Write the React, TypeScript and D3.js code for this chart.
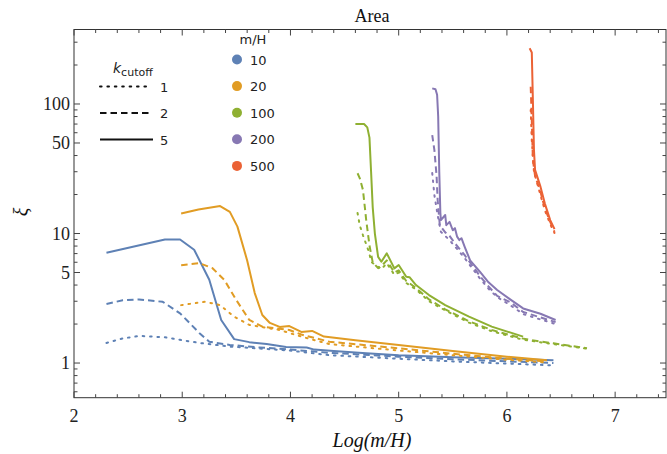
import React, { useRef, useEffect } from 'react';
import * as d3 from 'd3';

// [Log(m/H), xi]; one array per m/H and k_cutoff
const blue5 = [[2.30,7.1],[2.84,9.0],[2.98,9.0],[3.11,7.5],[3.25,4.4],[3.36,2.15],[3.48,1.53],[3.62,1.45],[3.78,1.40],[3.96,1.33],[4.15,1.32],[4.22,1.27],[4.4,1.24],[4.7,1.19],[5.0,1.15],[5.5,1.11],[6.0,1.08],[6.43,1.05]];
const blue2 = [[2.30,2.86],[2.45,3.05],[2.6,3.1],[2.82,2.97],[2.98,2.42],[3.16,1.70],[3.25,1.46],[3.44,1.38],[3.71,1.32],[4.0,1.27],[4.36,1.2],[5.0,1.12],[5.5,1.07],[6.0,1.03],[6.43,1.0]];
const blue1 = [[2.30,1.43],[2.45,1.55],[2.61,1.62],[2.84,1.58],[2.98,1.51],[3.16,1.43],[3.44,1.34],[3.99,1.25],[4.36,1.15],[5.0,1.08],[5.5,1.03],[6.0,0.99],[6.43,0.96]];

const orange5 = [[2.99,14.3],[3.15,15.3],[3.35,16.3],[3.44,14.7],[3.51,11.3],[3.6,6.2],[3.67,3.47],[3.74,2.35],[3.81,2.04],[3.9,1.9],[3.99,1.93],[4.1,1.74],[4.2,1.77],[4.31,1.6],[4.6,1.5],[5.0,1.38],[5.5,1.24],[6.0,1.12],[6.37,1.05]];
const orange2 = [[2.99,5.7],[3.16,5.9],[3.28,5.4],[3.39,4.37],[3.5,3.06],[3.62,2.15],[3.74,1.91],[3.99,1.8],[4.1,1.66],[4.36,1.46],[5.0,1.3],[5.5,1.18],[6.0,1.08],[6.37,1.03]];
const orange1 = [[2.99,2.8],[3.21,2.97],[3.35,2.8],[3.48,2.28],[3.62,1.97],[3.9,1.8],[4.1,1.6],[4.36,1.4],[5.0,1.25],[5.5,1.15],[6.0,1.06],[6.37,1.01]];

const green5 = [[4.60,70],[4.68,70],[4.71,66],[4.73,55],[4.745,30],[4.76,16],[4.78,10],[4.81,6.6],[4.84,6.06],[4.89,7.03],[4.96,5.38],[5.0,5.71],[5.07,4.64],[5.1,4.6],[5.16,4.0],[5.28,3.35],[5.43,2.8],[5.65,2.28],[5.86,1.91],[6.15,1.6]];
const green2 = [[4.62,29.2],[4.64,26.8],[4.67,21.7],[4.70,12.7],[4.73,8.1],[4.76,6.0],[4.81,5.4],[4.84,5.6],[4.89,6.2],[4.96,5.0],[5.0,5.2],[5.07,4.3],[5.16,3.8],[5.28,3.1],[5.43,2.6],[5.65,2.1],[5.86,1.8],[6.14,1.55],[6.3,1.47],[6.43,1.42],[6.74,1.30]];
const green1 = [[4.62,14.4],[4.64,11.6],[4.67,9.7],[4.72,7.4],[4.75,6.0],[4.84,5.3],[4.89,5.9],[4.96,4.8],[5.0,5.0],[5.07,4.15],[5.16,3.7],[5.28,3.0],[5.43,2.55],[5.65,2.05],[5.86,1.76],[6.14,1.52],[6.3,1.45],[6.43,1.4],[6.74,1.29]];

const purple5 = [[5.31,132],[5.34,130],[5.355,118],[5.365,80],[5.375,30],[5.385,14.5],[5.39,12.7],[5.43,13.9],[5.44,11.6],[5.47,12.3],[5.50,10.6],[5.52,11.0],[5.54,9.46],[5.56,8.9],[5.58,9.2],[5.61,7.9],[5.66,6.2],[5.75,5.07],[5.83,4.2],[5.91,3.66],[6.03,3.1],[6.15,2.64],[6.31,2.4],[6.45,2.15]];
const purple2 = [[5.31,57.6],[5.33,44],[5.35,28],[5.36,18.2],[5.38,11.6],[5.43,10.2],[5.47,9.6],[5.52,8.4],[5.61,6.8],[5.75,4.7],[5.83,3.9],[5.91,3.3],[6.03,2.95],[6.15,2.48],[6.31,2.25],[6.45,2.07]];
const purple1 = [[5.31,29.3],[5.33,19.8],[5.36,13.9],[5.39,10.3],[5.47,8.9],[5.61,6.45],[5.75,4.5],[5.83,3.75],[5.91,3.23],[6.03,2.8],[6.15,2.39],[6.31,2.17],[6.45,2.0]];

const red5 = [[6.21,269],[6.23,250],[6.24,107],[6.25,44],[6.26,31],[6.31,23],[6.35,17.1],[6.40,12.7],[6.44,10.8]];
const red2 = [[6.22,136],[6.23,75],[6.24,37],[6.26,28],[6.31,21],[6.35,15.7],[6.40,12.3],[6.44,10.3]];
const red1 = [[6.22,90],[6.23,52],[6.25,30],[6.31,19.8],[6.35,15.2],[6.40,11.8],[6.44,10.1]];

const massLabels = ['10', '20', '100', '200', '500'];
const colors = ['#5E81B5', '#E19C24', '#8FB032', '#8778B3', '#EB6235'];
const kLabels = ['1', '2', '5'];
const series = [
  [blue1, blue2, blue5],
  [orange1, orange2, orange5],
  [green1, green2, green5],
  [purple1, purple2, purple5],
  [red1, red2, red5],
];
const xMajor = [2, 3, 4, 5, 6, 7];
const yMajor = [1, 5, 10, 50, 100];
const yMinor = [0.6, 0.7, 0.8, 0.9, 2, 3, 4, 6, 7, 8, 9, 20, 30, 40, 60, 70, 80, 90, 200, 300];

const dashes = ['1.6,5.8', '6.5,4', null];

export default function App() {
  const ref = useRef(null);

  useEffect(() => {
    const svg = d3.select(ref.current);
    svg.selectAll('*').remove();

    const left = 74, right = 666, top = 29.5, bottom = 397.7;
    const x = d3.scaleLinear().domain([2, 7.47]).range([left, right]);
    const y = d3.scaleLog().domain([0.54, 376]).range([bottom, top]);

    const serif = "'Liberation Serif', 'Times New Roman', serif";
    const sans = "'DejaVu Sans', sans-serif";

    // curves
    const line = d3.line().x(d => x(d[0])).y(d => y(d[1]));
    const g = svg.append('g');
    series.forEach((group, i) => {
      group.forEach((pts, k) => {
        g.append('path')
          .attr('d', line(pts))
          .attr('fill', 'none')
          .attr('stroke', colors[i])
          .attr('stroke-width', 2)
          .attr('stroke-dasharray', dashes[k])
          .attr('stroke-linecap', k === 0 ? 'round' : 'butt')
          .attr('stroke-linejoin', 'round');
      });
    });

    // frame
    svg.append('rect')
      .attr('x', left).attr('y', top)
      .attr('width', right - left).attr('height', bottom - top)
      .attr('fill', 'none').attr('stroke', '#333').attr('stroke-width', 1);

    const ticks = svg.append('g').attr('stroke', '#444').attr('stroke-width', 1);
    const xMinor = d3.range(2, 7.47, 0.2).filter(v => Math.abs(v - Math.round(v)) > 1e-6);
    xMajor.forEach(v => {
      ticks.append('line').attr('x1', x(v)).attr('x2', x(v)).attr('y1', bottom).attr('y2', bottom - 6);
      ticks.append('line').attr('x1', x(v)).attr('x2', x(v)).attr('y1', top).attr('y2', top + 6);
    });
    xMinor.forEach(v => {
      ticks.append('line').attr('x1', x(v)).attr('x2', x(v)).attr('y1', bottom).attr('y2', bottom - 3.5);
      ticks.append('line').attr('x1', x(v)).attr('x2', x(v)).attr('y1', top).attr('y2', top + 3.5);
    });
    yMajor.forEach(v => {
      ticks.append('line').attr('x1', left).attr('x2', left + 6).attr('y1', y(v)).attr('y2', y(v));
      ticks.append('line').attr('x1', right).attr('x2', right - 6).attr('y1', y(v)).attr('y2', y(v));
    });
    yMinor.forEach(v => {
      ticks.append('line').attr('x1', left).attr('x2', left + 3.5).attr('y1', y(v)).attr('y2', y(v));
      ticks.append('line').attr('x1', right).attr('x2', right - 3.5).attr('y1', y(v)).attr('y2', y(v));
    });

    // tick labels
    svg.append('g').selectAll('text').data(xMajor).join('text')
      .attr('x', d => x(d)).attr('y', bottom + 24)
      .attr('text-anchor', 'middle')
      .style('font-family', serif).style('font-size', '18px').attr('fill', '#222')
      .text(d => d);
    svg.append('g').selectAll('text').data(yMajor).join('text')
      .attr('x', left - 4).attr('y', d => y(d) + 6)
      .attr('text-anchor', 'end')
      .style('font-family', serif).style('font-size', '18px').attr('fill', '#222')
      .text(d => d);

    // titles
    svg.append('text').attr('x', 372).attr('y', 22).attr('text-anchor', 'middle')
      .style('font-family', serif).style('font-size', '18px').attr('fill', '#111').text('Area');
    svg.append('text').attr('x', 372).attr('y', 447).attr('text-anchor', 'middle')
      .style('font-family', serif).style('font-size', '20px').style('font-style', 'italic')
      .attr('fill', '#111').text('Log(m/H)');
    svg.append('text').attr('transform', 'translate(28,212) rotate(-90)').attr('text-anchor', 'middle')
      .style('font-family', serif).style('font-size', '20px').style('font-style', 'italic')
      .attr('fill', '#111').text('ξ');

    // k_cutoff legend
    const kt = svg.append('text').attr('x', 113).attr('y', 73)
      .style('font-family', sans).style('font-size', '14px').attr('fill', '#222');
    kt.append('tspan').style('font-style', 'italic').text('k');
    kt.append('tspan').attr('dy', 3).style('font-size', '11px').text('cutoff');
    kLabels.forEach((lab, k) => {
      const yy = 86.5 + k * 26.5;
      svg.append('line').attr('x1', 100).attr('x2', k === 2 ? 153 : 149).attr('y1', yy).attr('y2', yy)
        .attr('stroke', '#111').attr('stroke-width', 2)
        .attr('stroke-dasharray', dashes[k])
        .attr('stroke-linecap', k === 0 ? 'round' : 'butt');
      svg.append('text').attr('x', 160).attr('y', yy + 5)
        .style('font-family', sans).style('font-size', '13px').attr('fill', '#222').text(lab);
    });

    // m/H legend
    svg.append('text').attr('x', 253).attr('y', 44).attr('text-anchor', 'middle')
      .style('font-family', sans).style('font-size', '13px').attr('fill', '#222').text('m/H');
    massLabels.forEach((lab, i) => {
      const yy = 59.5 + i * 26.6;
      svg.append('circle').attr('cx', 237).attr('cy', yy).attr('r', 5).attr('fill', colors[i]);
      svg.append('text').attr('x', 250).attr('y', yy + 5)
        .style('font-family', sans).style('font-size', '13px').attr('fill', '#222').text(lab);
    });
  }, []);

  return (
    <svg ref={ref} width="667" height="454" style={{ position: 'absolute', left: 0, top: 0, background: '#fff' }} />
  );
}
